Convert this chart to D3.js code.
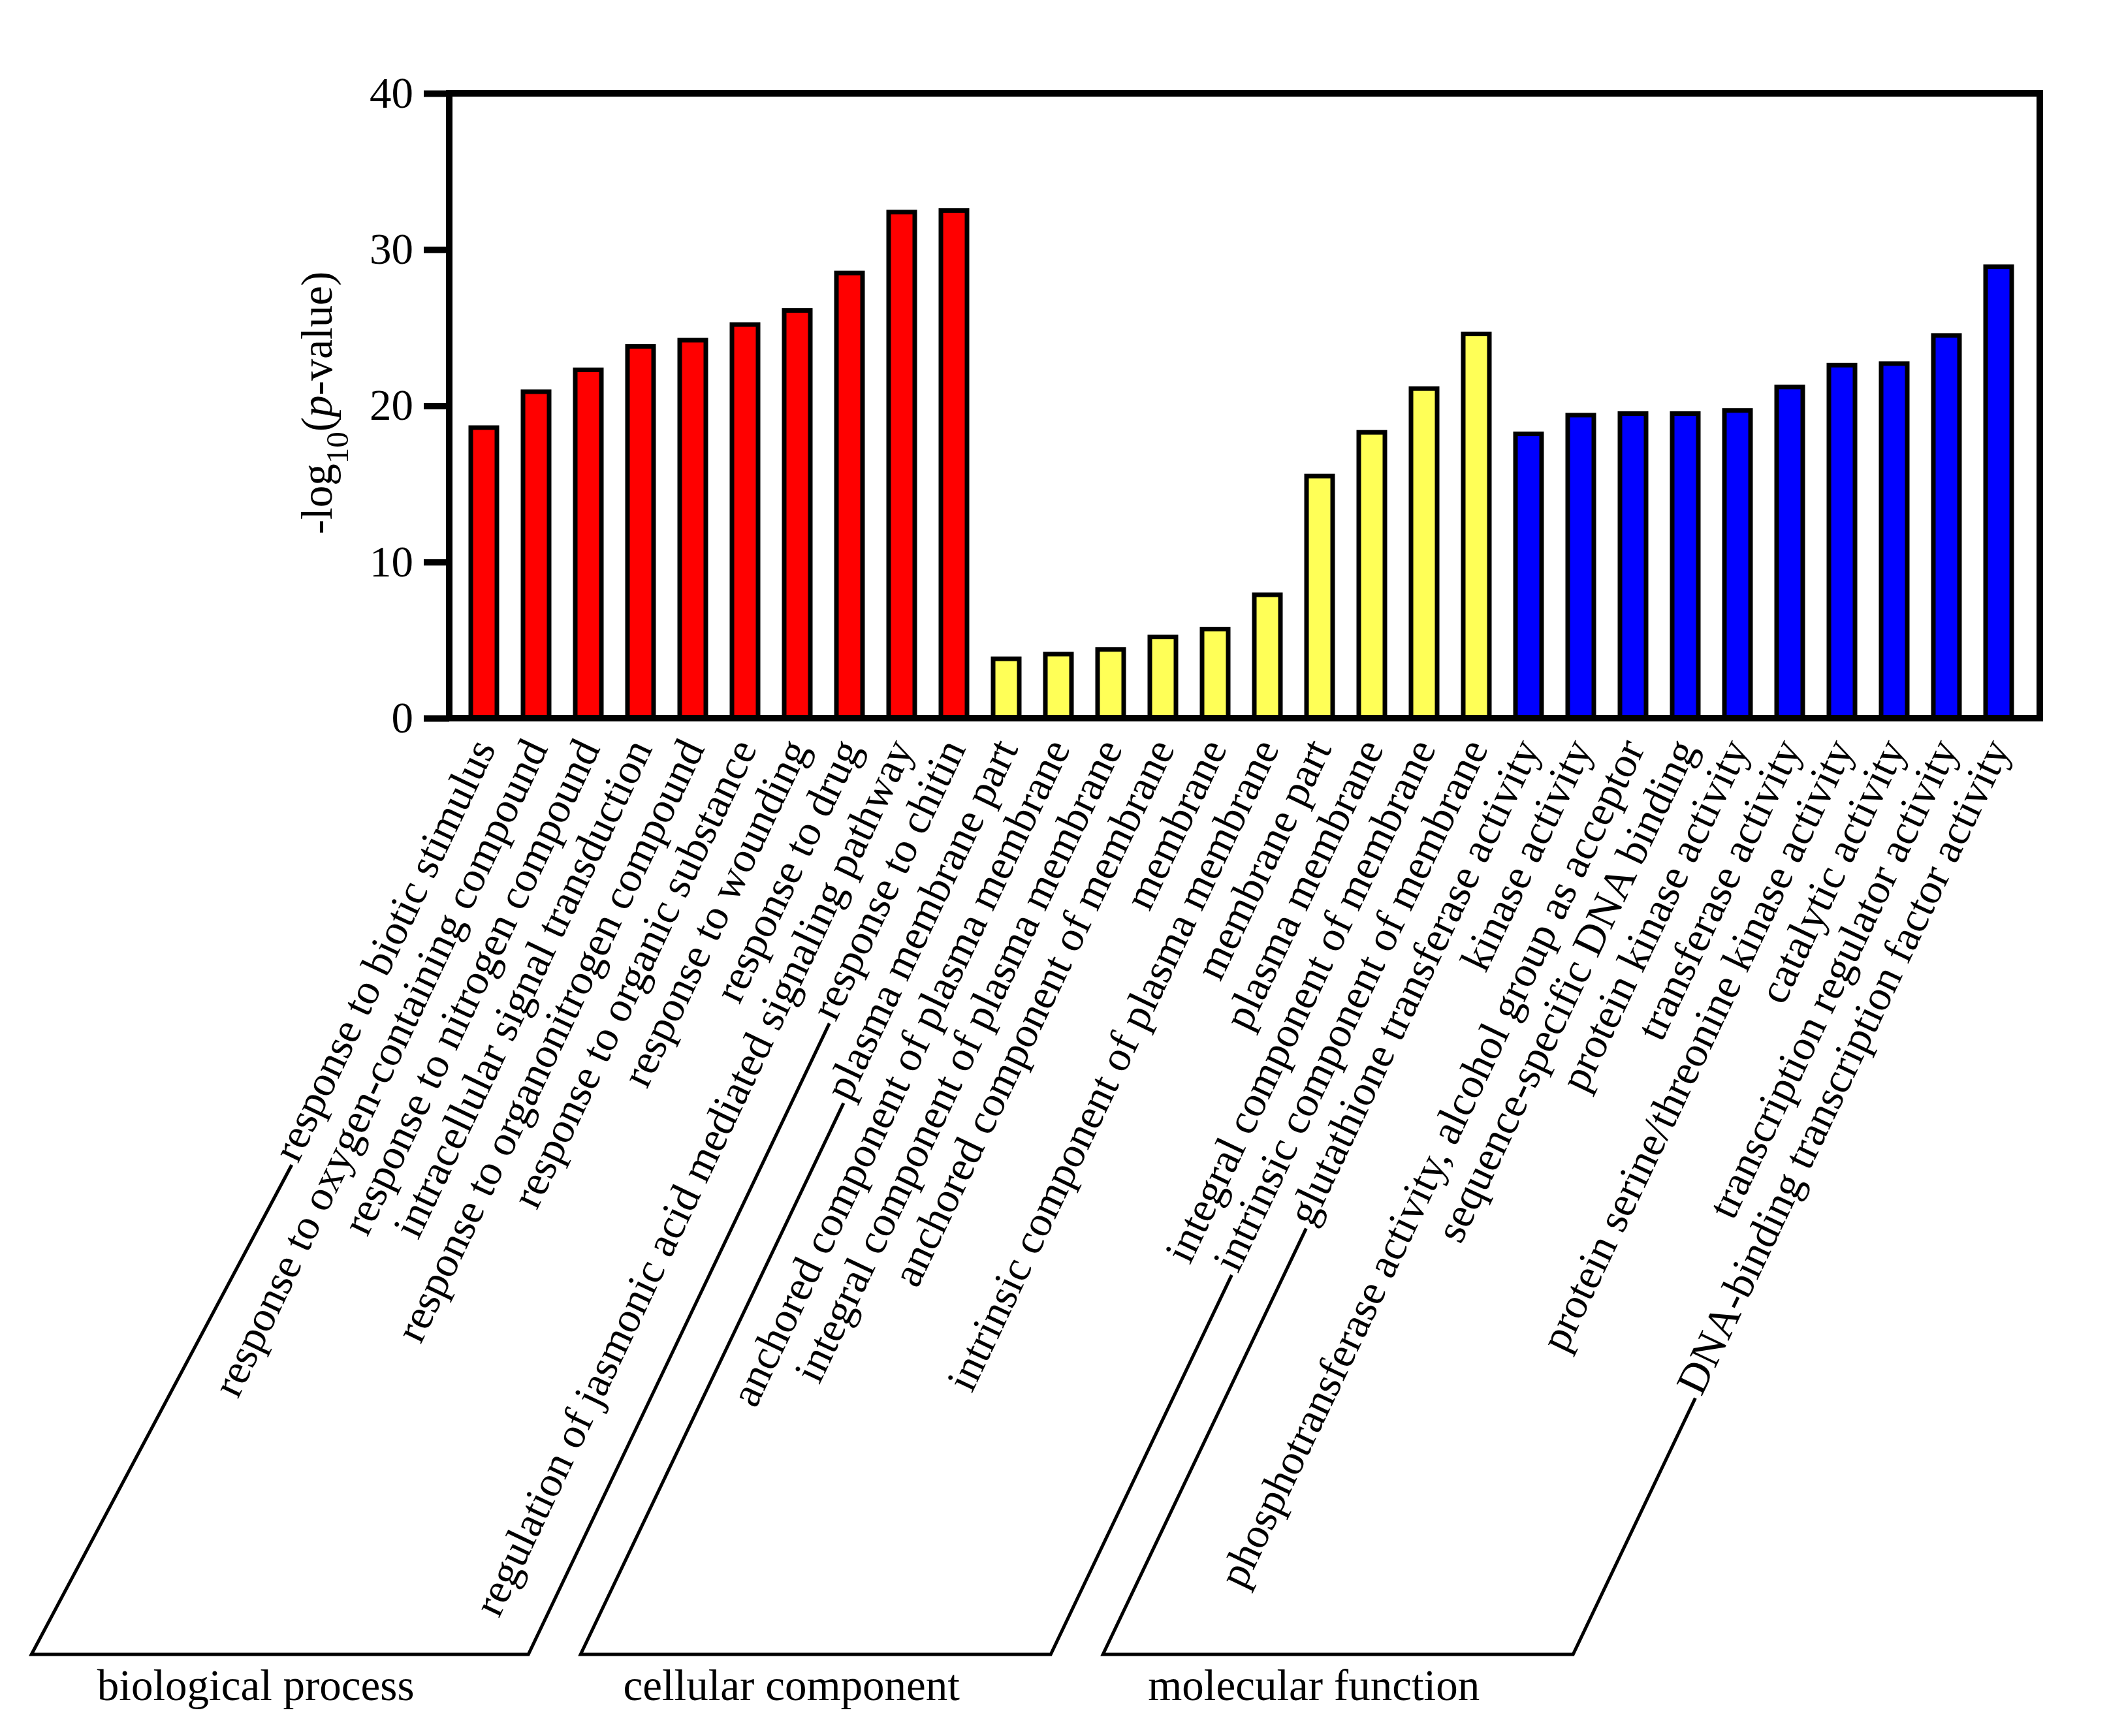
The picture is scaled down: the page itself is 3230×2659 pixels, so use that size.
<!DOCTYPE html>
<html>
<head>
<meta charset="utf-8">
<script src="https://cdn.jsdelivr.net/npm/d3@7"></script>
<style>
  html, body { margin: 0; padding: 0; background: #fff; }
  svg text { font-family: "Liberation Serif", "Times New Roman", serif; fill: #000; }
</style>
</head>
<body>
<div id="chart"></div>
<script>
// GO categories and -log10(p) values
const groupNames = ['biological process', 'cellular component', 'molecular function'];

const bpTerms = [
  'response to biotic stimulus',
  'response to oxygen-containing compound',
  'response to nitrogen compound',
  'intracellular signal transduction',
  'response to organonitrogen compound',
  'response to organic substance',
  'response to wounding',
  'response to drug',
  'regulation of jasmonic acid mediated signaling pathway',
  'response to chitin'
];
const bpValues = [18.6, 20.9, 22.3, 23.8, 24.2, 25.2, 26.1, 28.5, 32.4, 32.5];

const ccTerms = [
  'plasma membrane part',
  'anchored component of plasma membrane',
  'integral component of plasma membrane',
  'anchored component of membrane',
  'membrane',
  'intrinsic component of plasma membrane',
  'membrane part',
  'plasma membrane',
  'integral component of membrane',
  'intrinsic component of membrane'
];
const ccValues = [3.8, 4.1, 4.4, 5.2, 5.7, 7.9, 15.5, 18.3, 21.1, 24.6];

const mfTerms = [
  'glutathione transferase activity',
  'kinase activity',
  'phosphotransferase activity, alcohol group as acceptor',
  'sequence-specific DNA binding',
  'protein kinase activity',
  'transferase activity',
  'protein serine/threonine kinase activity',
  'catalytic activity',
  'transcription regulator activity',
  'DNA-binding transcription factor activity'
];
const mfValues = [18.2, 19.4, 19.5, 19.5, 19.7, 21.2, 22.6, 22.7, 24.5, 28.9];

const yTicks = [0, 10, 20, 30, 40];

// build rows
const groupTerms = [bpTerms, ccTerms, mfTerms];
const groupValues = [bpValues, ccValues, mfValues];
const colors = ['#ff0000', '#ffff57', '#0000ff'];
const rows = [];
groupTerms.forEach((terms, g) => {
  terms.forEach((t, i) => rows.push({ term: t, value: groupValues[g][i], group: g }));
});

const W = 3230, H = 2659;
const plot = { left: 688, right: 3124, top: 143, bottom: 1100 };
const fontSize = 67;
const labelSize = 66;
const angle = 64.5;   // label rotation
// slant of the left / right bracket line of each group (the first one is drawn flatter)
const bracketSlant = [[62, 64.5], [64.5, 64.5], [64.5, 64.5]];
const bracketY = 2534;
const groupLabelShift = -37;

const svg = d3.select('#chart').append('svg')
  .attr('width', W).attr('height', H)
  .style('background', '#fff');

const x = d3.scaleBand()
  .domain(rows.map((d, i) => i))
  .range([701, 3101])
  .paddingInner(0.5)
  .paddingOuter(0.25);

const y = d3.scaleLinear()
  .domain([0, 40])
  .range([plot.bottom, plot.top]);

// bars
svg.append('g').selectAll('rect')
  .data(rows)
  .join('rect')
  .attr('x', (d, i) => x(i))
  .attr('width', x.bandwidth())
  .attr('y', d => y(d.value))
  .attr('height', d => y(0) - y(d.value))
  .attr('fill', d => colors[d.group])
  .attr('stroke', '#000')
  .attr('stroke-width', 7);

// y axis
const yAxis = svg.append('g')
  .attr('transform', `translate(${plot.left},0)`)
  .call(d3.axisLeft(y).tickValues(yTicks).tickSize(39).tickSizeOuter(0).tickPadding(16));
yAxis.select('.domain').remove();
yAxis.selectAll('.tick line').attr('stroke', '#000').attr('stroke-width', 10);
yAxis.selectAll('.tick text')
  .style('font-family', '"Liberation Serif", "Times New Roman", serif')
  .style('font-size', fontSize + 'px')
  .attr('fill', '#000');

// frame
svg.append('rect')
  .attr('x', plot.left).attr('y', plot.top)
  .attr('width', plot.right - plot.left)
  .attr('height', plot.bottom - plot.top)
  .attr('fill', 'none')
  .attr('stroke', '#000')
  .attr('stroke-width', 10);

// y axis title
const title = svg.append('text')
  .attr('transform', `translate(508,617) rotate(-90)`)
  .attr('text-anchor', 'middle')
  .style('font-size', fontSize + 'px');
title.append('tspan').text('-log');
title.append('tspan').attr('dy', 25).style('font-size', '49px').text('10');
title.append('tspan').attr('dy', -25).text('(');
title.append('tspan').style('font-style', 'italic').text('p');
title.append('tspan').text('-value)');

// category labels
const rad = angle * Math.PI / 180;
const cosA = Math.cos(-rad), sinA = Math.sin(-rad);
const labelY = plot.bottom + 37;
const dyPx = 0.32 * labelSize;

const labels = svg.append('g').selectAll('text')
  .data(rows)
  .join('text')
  .attr('transform', (d, i) => `translate(${x(i) + x.bandwidth() / 2},${labelY}) rotate(${-angle})`)
  .attr('text-anchor', 'end')
  .attr('dy', '0.32em')
  .style('font-size', labelSize + 'px')
  .text(d => d.term);

// start point of each label (global coords)
const starts = [];
labels.each(function (d, i) {
  const L = this.getComputedTextLength() + 5;
  const lx = -L, ly = dyPx - 8;
  starts[i] = {
    x: x(i) + x.bandwidth() / 2 + lx * cosA - ly * sinA,
    y: labelY + lx * sinA + ly * cosA
  };
});

// group brackets
groupNames.forEach((name, g) => {
  const idx = rows.map((d, i) => d.group === g ? i : -1).filter(i => i >= 0);
  const s0 = starts[idx[0]], s1 = starts[idx[idx.length - 1]];
  const t0 = Math.tan(bracketSlant[g][0] * Math.PI / 180);
  const t1 = Math.tan(bracketSlant[g][1] * Math.PI / 180);
  const c0 = s0.x - (bracketY - s0.y) / t0;
  const c1 = s1.x - (bracketY - s1.y) / t1;
  svg.append('path')
    .attr('d', d3.line()([[s0.x, s0.y], [c0, bracketY], [c1, bracketY], [s1.x, s1.y]]))
    .attr('fill', 'none')
    .attr('stroke', '#000')
    .attr('stroke-width', 5);
  svg.append('text')
    .attr('x', (c0 + c1) / 2 + groupLabelShift)
    .attr('y', bracketY + 70)
    .attr('text-anchor', 'middle')
    .style('font-size', fontSize + 'px')
    .text(name);
});
</script>
</body>
</html>
